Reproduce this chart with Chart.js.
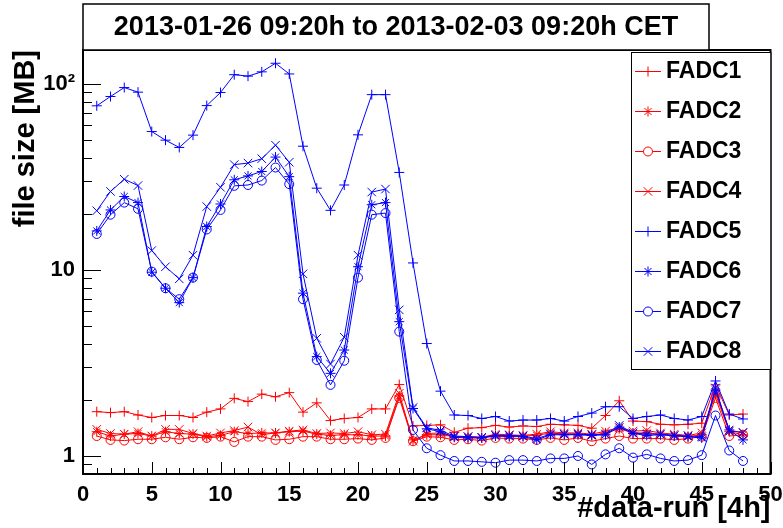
<!DOCTYPE html>
<html>
<head>
<meta charset="utf-8">
<title>FADC file size</title>
<script src="https://cdn.jsdelivr.net/npm/chart.js@4.4.1/dist/chart.umd.min.js"></script>
<style>
  html, body { margin: 0; padding: 0; background: #fff; }
  canvas { display: block; }
</style>
</head>
<body>
<canvas id="sizeChart" width="783" height="528"></canvas>
<script>
// data-run number (4h bins)
const runs = [1, 2, 3, 4, 5, 6, 7, 8, 9, 10, 11, 12, 13, 14, 15, 16, 17, 18, 19, 20, 21, 22, 23, 24,
  25, 26, 27, 28, 29, 30, 31, 32, 33, 34, 35, 36, 37, 38, 39, 40, 41, 42, 43, 44, 45, 46, 47, 48];

// file size [MB] per FADC
const fadc1 = [1.73, 1.71, 1.73, 1.66, 1.61, 1.65, 1.65, 1.61, 1.72, 1.79, 2.04, 1.96, 2.15, 2.08, 2.19, 1.72, 1.93, 1.55, 1.59, 1.61, 1.79, 1.79, 2.42,
  1.45, 1.46, 1.47, 1.34, 1.41, 1.42, 1.46, 1.43, 1.45, 1.44, 1.48, 1.47, 1.46, 1.41, 1.65, 1.98, 1.54, 1.53, 1.48, 1.47, 1.48, 1.50, 2.41, 1.66, 1.68];
const fadc2 = [1.35, 1.28, 1.31, 1.32, 1.28, 1.35, 1.32, 1.31, 1.27, 1.29, 1.35, 1.32, 1.33, 1.33, 1.35, 1.36, 1.31, 1.29, 1.30, 1.30, 1.28, 1.28, 2.10,
  1.22, 1.30, 1.30, 1.27, 1.26, 1.25, 1.29, 1.28, 1.28, 1.29, 1.33, 1.31, 1.31, 1.29, 1.33, 1.40, 1.33, 1.33, 1.31, 1.29, 1.27, 1.30, 2.15, 1.35, 1.30];
const fadc3 = [1.28, 1.22, 1.21, 1.23, 1.23, 1.26, 1.23, 1.26, 1.25, 1.27, 1.19, 1.27, 1.27, 1.22, 1.23, 1.27, 1.27, 1.23, 1.23, 1.24, 1.22, 1.25, 2.05,
  1.20, 1.27, 1.26, 1.22, 1.23, 1.21, 1.25, 1.24, 1.24, 1.22, 1.25, 1.22, 1.25, 1.20, 1.24, 1.28, 1.24, 1.24, 1.24, 1.22, 1.24, 1.27, 2.05, 1.28, 1.30];
const fadc4 = [1.39, 1.32, 1.31, 1.35, 1.28, 1.39, 1.39, 1.32, 1.28, 1.33, 1.37, 1.43, 1.30, 1.33, 1.36, 1.38, 1.32, 1.33, 1.32, 1.35, 1.30, 1.31, 2.17,
  1.20, 1.32, 1.33, 1.27, 1.27, 1.26, 1.31, 1.30, 1.29, 1.31, 1.35, 1.33, 1.33, 1.31, 1.36, 1.42, 1.36, 1.37, 1.33, 1.31, 1.29, 1.33, 2.20, 1.38, 1.33];
const fadc5 = [76.2, 85.5, 95.5, 90.2, 55.4, 49.8, 45.5, 53.0, 76.4, 89.8, 112, 110, 116, 129, 113, 46.2, 27.5, 20.9, 28.6, 53.2, 87.5, 87.5, 33.4,
  10.9, 4.02, 2.23, 1.66, 1.65, 1.59, 1.63, 1.54, 1.56, 1.56, 1.59, 1.54, 1.63, 1.70, 1.84, 1.84, 1.59, 1.63, 1.66, 1.59, 1.56, 1.63, 2.53, 1.68, 1.58];
const fadc6 = [16.2, 21.0, 24.8, 23.0, 9.72, 7.97, 6.67, 9.09, 17.1, 22.6, 30.5, 32.0, 33.8, 40.4, 31.7, 7.50, 3.42, 2.78, 3.71, 10.4, 22.4, 23.0, 5.27,
  1.80, 1.40, 1.35, 1.26, 1.25, 1.25, 1.28, 1.27, 1.27, 1.22, 1.30, 1.30, 1.30, 1.29, 1.30, 1.43, 1.32, 1.29, 1.30, 1.28, 1.27, 1.25, 2.26, 1.38, 1.22];
const fadc7 = [15.6, 19.8, 23.0, 21.3, 9.79, 7.97, 6.96, 9.09, 16.5, 21.0, 28.3, 28.6, 30.2, 35.5, 28.9, 6.96, 3.28, 2.41, 3.25, 9.09, 19.8, 20.2, 4.66,
  1.38, 1.10, 1.01, 0.94, 0.94, 0.93, 0.92, 0.95, 0.95, 0.94, 0.97, 0.97, 1.00, 0.90, 1.02, 1.10, 0.98, 1.02, 0.97, 0.94, 0.95, 1.01, 1.65, 1.07, 0.94];
const fadc8 = [20.8, 26.4, 30.7, 28.4, 12.7, 10.4, 8.95, 12.0, 21.9, 27.8, 36.8, 37.5, 39.6, 46.8, 37.9, 9.52, 4.29, 3.12, 4.35, 12.0, 26.2, 27.2, 6.10,
  1.82, 1.42, 1.37, 1.28, 1.27, 1.26, 1.29, 1.29, 1.28, 1.24, 1.31, 1.31, 1.31, 1.30, 1.31, 1.46, 1.33, 1.31, 1.31, 1.29, 1.28, 1.27, 2.32, 1.36, 1.34];

const seriesNames = ["FADC1", "FADC2", "FADC3", "FADC4", "FADC5", "FADC6", "FADC7", "FADC8"];
const seriesValues = [fadc1, fadc2, fadc3, fadc4, fadc5, fadc6, fadc7, fadc8];

// axis ticks
const xTickValues = [0, 5, 10, 15, 20, 25, 30, 35, 40, 45, 50];
const yTickValues = [1, 10, 100];
const yTickLabels = ["1", "10", "10\u00b2"];

const titleText = "2013-01-26 09:20h to 2013-02-03 09:20h CET";
const xTitle = "#data-run [4h]";
const yTitle = "file size [MB]";

// ROOT-ish look
const FONT = "'Liberation Sans', Arial, Helvetica, sans-serif";
const RED = "#ff0000";
const BLUE = "#0000ff";
const markerStyles = [
  { color: RED, style: "cross", radius: 5 },
  { color: RED, style: "star", radius: 5 },
  { color: RED, style: "circle", radius: 4.5 },
  { color: RED, style: "crossRot", radius: 6 },
  { color: BLUE, style: "cross", radius: 5 },
  { color: BLUE, style: "star", radius: 5 },
  { color: BLUE, style: "circle", radius: 4.5 },
  { color: BLUE, style: "crossRot", radius: 6 }
];

// frame, inward ticks, title box, axis titles and legend
const rootDecor = {
  id: "rootDecor",
  afterDatasetsDraw(chart) {
    const { ctx, chartArea: a, scales: { x, y } } = chart;
    ctx.save();
    ctx.strokeStyle = "#000";
    ctx.lineWidth = 1;
    ctx.beginPath();
    for (let v = x.min; v <= x.max; v++) {
      const px = Math.round(x.getPixelForValue(v)) + 0.5;
      const len = v % 5 === 0 ? 12 : 6;
      ctx.moveTo(px, a.bottom);
      ctx.lineTo(px, a.bottom - len);
    }
    for (let dec = 0.1; dec < 1000; dec *= 10) {
      for (let m = 1; m < 10; m++) {
        const v = dec * m;
        if (v < y.min * 0.999 || v > y.max) continue;
        const py = Math.round(y.getPixelForValue(v)) + 0.5;
        const len = m === 1 ? 18 : 9;
        ctx.moveTo(a.left, py);
        ctx.lineTo(a.left + len, py);
      }
    }
    ctx.stroke();
    ctx.lineWidth = 2;
    ctx.strokeRect(a.left, a.top, a.right - a.left, a.bottom - a.top);
    ctx.restore();
  },
  afterDraw(chart) {
    const { ctx, chartArea: a } = chart;
    ctx.save();

    // title box
    ctx.fillStyle = "#fff";
    ctx.fillRect(a.left, 4, 626, a.top - 4);
    ctx.strokeStyle = "#000";
    ctx.lineWidth = 1.5;
    ctx.strokeRect(a.left, 4, 626, a.top - 4);
    ctx.fillStyle = "#000";
    ctx.font = "bold 27px " + FONT;
    ctx.textAlign = "center";
    ctx.textBaseline = "middle";
    ctx.fillText(titleText, a.left + 313, 28);

    // axis titles
    ctx.font = "bold 29px " + FONT;
    ctx.textAlign = "right";
    ctx.textBaseline = "alphabetic";
    ctx.fillText(xTitle, a.right, 517);
    ctx.save();
    ctx.translate(34, a.top);
    ctx.rotate(-Math.PI / 2);
    ctx.fillText(yTitle, 0, 0);
    ctx.restore();

    // legend
    const lx = 631, ly = a.top + 2, lw = a.right - 631, lh = 317;
    ctx.fillStyle = "#fff";
    ctx.fillRect(lx, ly, lw, lh);
    ctx.strokeStyle = "#000";
    ctx.lineWidth = 1;
    ctx.strokeRect(lx + 0.5, ly + 0.5, lw, lh);
    ctx.font = "bold 23px " + FONT;
    ctx.textAlign = "left";
    ctx.textBaseline = "middle";
    seriesNames.forEach((name, i) => {
      const m = markerStyles[i];
      const cy = ly + 19 + i * 40;
      ctx.strokeStyle = m.color;
      ctx.lineWidth = 1;
      ctx.beginPath();
      ctx.moveTo(lx + 4, cy + 0.5);
      ctx.lineTo(lx + 30, cy + 0.5);
      ctx.stroke();
      ctx.fillStyle = "#fff";
      Chart.helpers.drawPoint(ctx, { pointStyle: m.style, radius: m.radius, rotation: 0, borderWidth: 1 }, lx + 17, cy + 0.5);
      ctx.fillStyle = "#000";
      ctx.fillText(name, lx + 35, cy + 1);
    });
    ctx.restore();
  }
};

const datasets = seriesNames.map((name, i) => ({
  label: name,
  data: runs.map((r, j) => ({ x: r, y: seriesValues[i][j] })),
  borderColor: markerStyles[i].color,
  backgroundColor: "rgba(0,0,0,0)",
  borderWidth: 1,
  pointStyle: markerStyles[i].style,
  pointRadius: markerStyles[i].radius,
  pointBorderColor: markerStyles[i].color,
  pointBackgroundColor: "rgba(0,0,0,0)",
  pointBorderWidth: 1,
  tension: 0,
  order: seriesNames.length - i
}));

const tickFont = { family: FONT, size: 22, weight: "bold" };

new Chart(document.getElementById("sizeChart"), {
  type: "line",
  data: { datasets },
  options: {
    responsive: false,
    animation: false,
    devicePixelRatio: 1,
    layout: { padding: { top: 50, right: 12.5, left: 0, bottom: 0 } },
    plugins: {
      legend: { display: false },
      tooltip: { enabled: false },
      title: { display: false }
    },
    scales: {
      x: {
        type: "linear",
        min: 0,
        max: 50,
        grid: { display: false, drawTicks: false },
        border: { display: false },
        afterBuildTicks: (s) => { s.ticks = xTickValues.map((v) => ({ value: v })); },
        ticks: { font: tickFont, color: "#000", padding: 8, maxRotation: 0, autoSkip: false },
        afterFit: (s) => { s.height = 54; s.paddingLeft = 0; s.paddingRight = 0; }
      },
      y: {
        type: "logarithmic",
        min: 0.8,
        max: 152,
        grid: { display: false, drawTicks: false },
        border: { display: false },
        afterBuildTicks: (s) => { s.ticks = yTickValues.map((v) => ({ value: v })); },
        ticks: {
          font: tickFont,
          color: "#000",
          padding: 8,
          autoSkip: false,
          callback: (v) => yTickLabels[yTickValues.indexOf(v)]
        },
        afterFit: (s) => { s.width = 83; s.paddingTop = 0; s.paddingBottom = 0; }
      }
    }
  },
  plugins: [rootDecor]
});
</script>
</body>
</html>
